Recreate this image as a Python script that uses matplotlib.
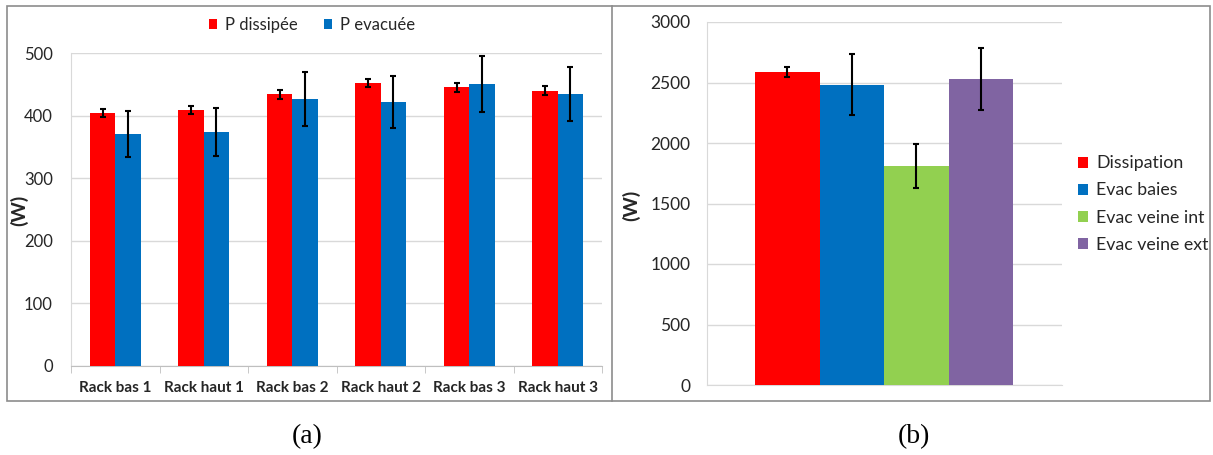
import matplotlib
matplotlib.use("Agg")
import matplotlib.pyplot as plt
from matplotlib.patches import Rectangle
from matplotlib.lines import Line2D
import numpy as np

# ---- data ----
categories = ["Rack bas 1", "Rack haut 1", "Rack bas 2", "Rack haut 2", "Rack bas 3", "Rack haut 3"]
p_dissipee = [404, 409, 434, 452, 445, 440]
p_dissipee_err = [7, 7, 7, 7, 7, 7]
p_evacuee = [371, 374, 427, 422, 451, 435]
p_evacuee_err = [37, 38, 43, 42, 45, 43]
left_yticks = [0, 100, 200, 300, 400, 500]

b_labels = ["Dissipation", "Evac baies", "Evac veine int", "Evac veine ext"]
b_values = [2587, 2482, 1807, 2529]
b_err = [41, 250, 183, 255]
right_yticks = [0, 500, 1000, 1500, 2000, 2500, 3000]

RED = "#FF0000"
BLUE = "#0070C0"
GREEN = "#92D050"
PURPLE = "#8064A2"
GRID = "#D9D9D9"
TXT = "#262626"
FONT = ["Lato", "DejaVu Sans"]

plt.rcParams['font.family'] = FONT

W, H = 1213, 455
fig = plt.figure(figsize=(W / 100, H / 100), dpi=100)

def px_axes(x0, y0, x1, y1):
    return fig.add_axes([x0 / W, 1 - y1 / H, (x1 - x0) / W, (y1 - y0) / H])

# borders
fig.patches.append(Rectangle((7 / W, 1 - 401 / H), (1210 - 7) / W, (401 - 6) / H,
                             transform=fig.transFigure, fill=False, edgecolor="#8C8C8C", lw=1.2))
fig.lines.append(Line2D([612 / W, 612 / W], [1 - 401 / H, 1 - 6 / H], transform=fig.transFigure,
                        color="#8C8C8C", lw=1.2))

ekw = dict(ecolor="black", elinewidth=1.5, capsize=2, capthick=1.5)

# ---- left chart ----
ax = px_axes(71, 53, 602, 366)
x = np.arange(len(categories))
bw = 0.286
ax.bar(x - bw / 2, p_dissipee, bw, color=RED, yerr=p_dissipee_err, zorder=3,
       error_kw=ekw, label="P dissipée")
ax.bar(x + bw / 2, p_evacuee, bw, color=BLUE, yerr=p_evacuee_err, zorder=3,
       error_kw=ekw, label="P evacuée")
ax.set_xlim(-0.5, len(categories) - 0.5)
ax.set_ylim(0, 500)
ax.set_yticks(left_yticks)
ax.yaxis.grid(True, color=GRID, lw=1, zorder=0)
ax.set_axisbelow(True)
for s in ["top", "right"]:
    ax.spines[s].set_visible(False)
ax.spines["left"].set_color(GRID)
ax.spines["bottom"].set_color("#BFBFBF")
ax.set_xticks(x)
ax.set_xticklabels(categories, fontsize=11, fontweight="bold", color=TXT)
ax.set_xticks(np.arange(-0.5, len(categories), 1), minor=True)
ax.tick_params(axis="x", which="major", length=0, pad=11)
ax.tick_params(axis="x", which="minor", length=5, color="#BFBFBF")
ax.tick_params(axis="y", length=0, labelsize=12, labelcolor=TXT, pad=13)
fig.text(19 / W, 1 - 210 / H, "(W)", rotation=90, ha="center", va="center",
         fontsize=14, fontweight="bold", color=TXT)
h, l = ax.get_legend_handles_labels()
fig.legend(h, l, loc="center", bbox_to_anchor=(312 / W, 1 - 25 / H), ncol=2, frameon=False,
           fontsize=12, handlelength=0.5, handleheight=0.5, handletextpad=0.45, columnspacing=1.6,
           labelcolor=TXT)

# ---- right chart ----
ax2 = px_axes(707, 22, 1062, 385)
bx = np.arange(len(b_values))
colors = [RED, BLUE, GREEN, PURPLE]
for i in range(len(b_values)):
    ax2.bar(bx[i], b_values[i], 1.0, color=colors[i], yerr=b_err[i], zorder=3, label=b_labels[i],
            error_kw=ekw)
ax2.set_xlim(-1.244, 4.256)
ax2.set_ylim(0, 3000)
ax2.set_yticks(right_yticks)
ax2.set_xticks([])
ax2.yaxis.grid(True, color=GRID, lw=1, zorder=0)
ax2.set_axisbelow(True)
for s in ["top", "right"]:
    ax2.spines[s].set_visible(False)
ax2.spines["left"].set_color(GRID)
ax2.spines["bottom"].set_color(GRID)
ax2.tick_params(axis="y", length=0, labelsize=12.5, labelcolor=TXT, pad=12)
fig.text(631 / W, 1 - 205 / H, "(W)", rotation=90, ha="center", va="center",
         fontsize=14, fontweight="bold", color=TXT)
h2, l2 = ax2.get_legend_handles_labels()
fig.legend(h2, l2, loc="center left", bbox_to_anchor=(1062 / W, 1 - 204 / H), frameon=False,
           fontsize=12.8, handlelength=0.56, handleheight=0.56, handletextpad=0.45,
           labelspacing=0.62, labelcolor=TXT)

# captions
fig.text(307 / W, 1 - 437 / H, "(a)", ha="center", va="center", fontsize=20,
         family=["Liberation Serif", "DejaVu Serif"])
fig.text(914 / W, 1 - 437 / H, "(b)", ha="center", va="center", fontsize=20,
         family=["Liberation Serif", "DejaVu Serif"])

fig.savefig("out.png", dpi=100)
